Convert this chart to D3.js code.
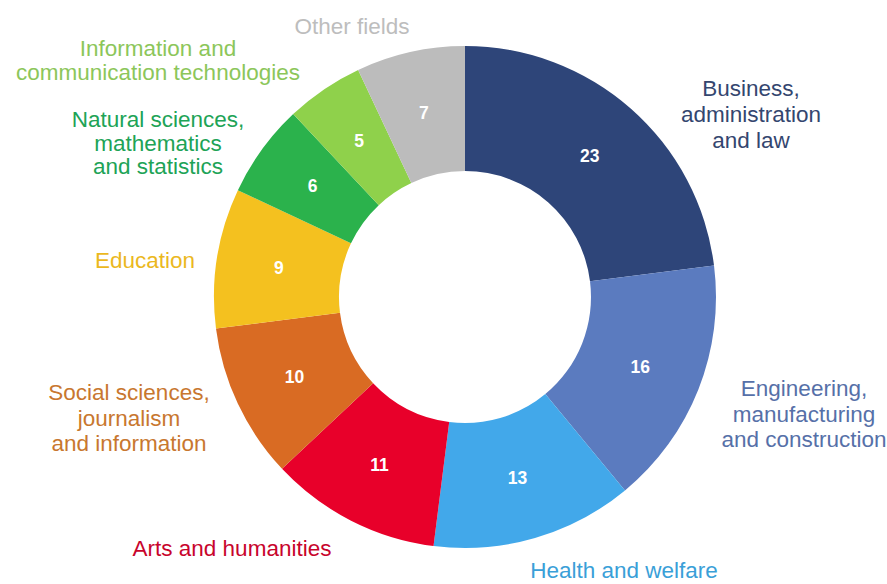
<!DOCTYPE html>
<html>
<head>
<meta charset="utf-8">
<script src="https://cdn.jsdelivr.net/npm/d3@7"></script>
<style>
  body { margin: 0; background: #fff; }
  text { font-family: "Liberation Sans", Arial, sans-serif; }
</style>
</head>
<body>
<svg id="chart" width="887" height="584"></svg>
<script>
// data, clockwise from 12 o'clock
var fields = ['Business, administration and law', 'Engineering, manufacturing and construction',
  'Health and welfare', 'Arts and humanities', 'Social sciences, journalism and information',
  'Education', 'Natural sciences, mathematics and statistics',
  'Information and communication technologies', 'Other fields']
var shares = [23, 16, 13, 11, 10, 9, 6, 5, 7]
var sliceColors = ['#2e4579', '#5b7bbf', '#42a8ea', '#e8002a', '#d96b23', '#f4c11f', '#2bb24c', '#8fd14b', '#bcbcbc']
var labelColors = ['#34466f', '#5670a8', '#3a9fd8', '#c8042c', '#c8772f', '#ebb81e', '#20a356', '#8cc65a', '#bdbdbd']

// label layout: line breaks, center x, first baseline, line spacing
var labelLines = [
  ['Business,', 'administration', 'and law'],
  ['Engineering,', 'manufacturing', 'and construction'],
  ['Health and welfare'],
  ['Arts and humanities'],
  ['Social sciences,', 'journalism', 'and information'],
  ['Education'],
  ['Natural sciences,', 'mathematics', 'and statistics'],
  ['Information and', 'communication technologies'],
  ['Other fields']
]
var labelPos = [[751, 96, 26], [804, 396, 25.5], [624, 578, 0], [232, 556, 0],
  [129, 400, 25.5], [145, 268, 0], [158, 127, 23.5], [158, 56, 23.5], [352, 34, 0]]

var width = 887,
  height = 584,
  cx = 465,
  cy = 297,
  outer = 251,
  inner = 126

var svg = d3.select('#chart')
var g = svg.append('g').attr('transform', 'translate(' + cx + ',' + cy + ')')

var pie = d3.pie().sort(null).value(function(d) { return d })
var arc = d3.arc().innerRadius(inner).outerRadius(outer)

var arcs = pie(shares)

g.selectAll('path')
  .data(arcs)
  .enter()
  .append('path')
  .attr('d', arc)
  .attr('fill', function(d, i) { return sliceColors[i] })

g.selectAll('text.val')
  .data(arcs)
  .enter()
  .append('text')
  .attr('class', 'val')
  .attr('transform', function(d) { return 'translate(' + arc.centroid(d) + ')' })
  .attr('text-anchor', 'middle')
  .attr('dy', '0.35em')
  .attr('fill', '#fff')
  .attr('font-weight', 'bold')
  .attr('font-size', 17.5)
  .text(function(d) { return d.data })

var labels = svg.selectAll('text.lab')
  .data(fields)
  .enter()
  .append('text')
  .attr('class', 'lab')
  .attr('text-anchor', 'middle')
  .attr('font-size', 22.5)
  .attr('fill', function(d, i) { return labelColors[i] })

labels.each(function(d, i) {
  var p = labelPos[i]
  d3.select(this)
    .selectAll('tspan')
    .data(labelLines[i])
    .enter()
    .append('tspan')
    .attr('x', p[0])
    .attr('y', function(l, j) { return p[1] + j * p[2] })
    .text(function(l) { return l })
})
</script>
</body>
</html>
